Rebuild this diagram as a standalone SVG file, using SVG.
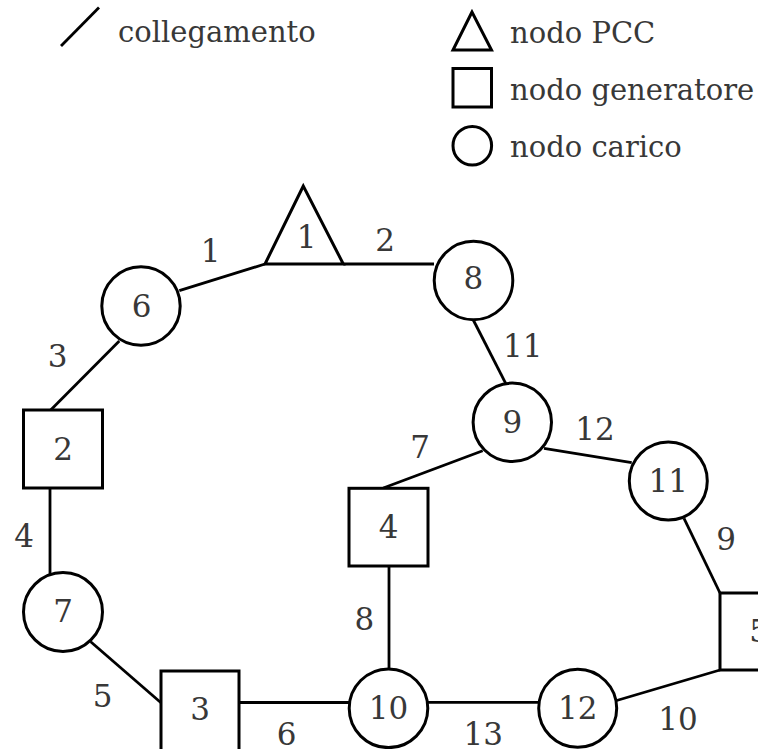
<svg xmlns="http://www.w3.org/2000/svg" width="758" height="749" viewBox="0 0 758 749">
<style>
.sh{fill:#fff;stroke:#000;stroke-width:3}
.ln{stroke:#000;stroke-width:2.8;fill:none}
.lg{font-family:"DejaVu Serif","Liberation Serif",serif;font-size:29px;fill:#383838}
.t{font-family:"DejaVu Serif","Liberation Serif",serif;font-size:31px;fill:#383838;text-anchor:middle}
</style>
<rect width="758" height="749" fill="#fff"/>
<g id="legend">
<line class="ln" x1="61" y1="46" x2="99" y2="7.5"/>
<text class="lg" x="118" y="42">collegamento</text>
<polygon class="sh" points="472,12 453,50 491.5,50"/>
<text class="lg" x="510" y="42.5">nodo PCC</text>
<rect class="sh" x="453" y="68.5" width="38.5" height="38.5"/>
<text class="lg" x="510" y="99.5">nodo generatore</text>
<circle class="sh" cx="472.3" cy="145.7" r="19.3"/>
<text class="lg" x="510" y="156.5">nodo carico</text>
</g>
<g id="connectors">
<line class="ln" x1="179.3" y1="290.7" x2="265" y2="264"/>
<line class="ln" x1="343.3" y1="264" x2="434" y2="264"/>
<line class="ln" x1="119.3" y1="341" x2="50.7" y2="410"/>
<line class="ln" x1="50" y1="488" x2="50" y2="574.5"/>
<line class="ln" x1="90.7" y1="641.7" x2="161" y2="702.7"/>
<line class="ln" x1="239" y1="702.5" x2="349.2" y2="702.5"/>
<line class="ln" x1="482.7" y1="450.7" x2="383.3" y2="488"/>
<line class="ln" x1="389" y1="566" x2="389" y2="669"/>
<line class="ln" x1="684" y1="518.3" x2="720" y2="593"/>
<line class="ln" x1="615" y1="701" x2="720" y2="670"/>
<line class="ln" x1="473.3" y1="320" x2="505.7" y2="383.3"/>
<line class="ln" x1="544" y1="448.3" x2="631.7" y2="462.7"/>
<line class="ln" x1="427.7" y1="702.3" x2="538.3" y2="702.3"/>
<text class="t" x="210.7" y="261.7">1</text>
<text class="t" x="385" y="250.7">2</text>
<text class="t" x="57.7" y="367.3">3</text>
<text class="t" x="24" y="546.7">4</text>
<text class="t" x="102.7" y="706.7">5</text>
<text class="t" x="286.7" y="745">6</text>
<text class="t" x="420" y="458.3">7</text>
<text class="t" x="364.3" y="630">8</text>
<text class="t" x="726" y="550">9</text>
<text class="t" x="678" y="730">10</text>
<text class="t" x="522.7" y="356.7">11</text>
<text class="t" x="595" y="440">12</text>
<text class="t" x="483.3" y="744.5">13</text>
</g>
<g id="node1"><polygon class="sh" points="303.3,186 265,264 343.3,264"/><text class="t" x="306.7" y="248">1</text></g>
<g id="node2"><rect class="sh" x="23.5" y="410" width="79" height="78"/><text class="t" x="63" y="460">2</text></g>
<g id="node3"><rect class="sh" x="161" y="671" width="78" height="80"/><text class="t" x="200" y="720">3</text></g>
<g id="node4"><rect class="sh" x="349" y="488.3" width="79" height="77.7"/><text class="t" x="388.5" y="538.3">4</text></g>
<g id="node5"><rect class="sh" x="720" y="593" width="78" height="77"/><text class="t" x="759" y="642">5</text></g>
<g id="node6"><circle class="sh" cx="141" cy="306" r="39.2"/><text class="t" x="141.5" y="316.7">6</text></g>
<g id="node7"><circle class="sh" cx="63" cy="612" r="39.5"/><text class="t" x="63" y="622">7</text></g>
<g id="node8"><circle class="sh" cx="473.5" cy="280.5" r="39.3"/><text class="t" x="473.3" y="289.3">8</text></g>
<g id="node9"><circle class="sh" cx="512.3" cy="422.3" r="39.2"/><text class="t" x="512.3" y="433.3">9</text></g>
<g id="node10"><circle class="sh" cx="388.5" cy="708.3" r="39.3"/><text class="t" x="388.5" y="719">10</text></g>
<g id="node11"><circle class="sh" cx="668.3" cy="481" r="39"/><text class="t" x="668.3" y="491.7">11</text></g>
<g id="node12"><circle class="sh" cx="577.7" cy="708.3" r="39"/><text class="t" x="577.7" y="719">12</text></g>
</svg>
